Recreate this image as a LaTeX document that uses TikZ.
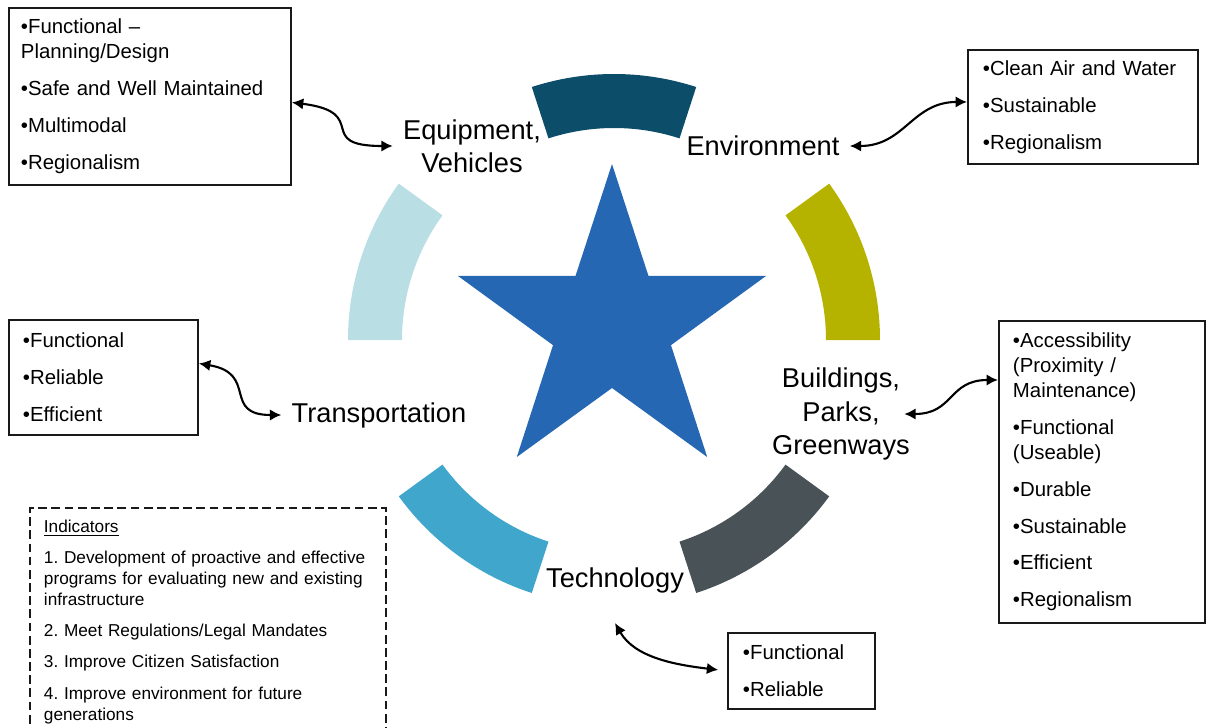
\documentclass[tikz,border=0pt]{standalone}
\usepackage{fontspec}
\setmainfont{Liberation Sans}
\usepackage{tikz}
\usetikzlibrary{arrows.meta,positioning}
\usepackage{xcolor}
\frenchspacing

\definecolor{ringteal}{RGB}{12,77,106}
\definecolor{ringolive}{RGB}{181,179,0}
\definecolor{ringpale}{RGB}{185,222,228}
\definecolor{ringsky}{RGB}{64,166,204}
\definecolor{ringslate}{RGB}{73,83,87}
\definecolor{starblue}{RGB}{37,103,178}

\tikzset{
  hub/.style={font=\fontsize{15.5}{19}\selectfont, align=center, inner sep=0.2cm},
  listbox/.style={draw=black!90, line width=1.1pt, align=left, inner ysep=0pt,
    font=\fontsize{11.6}{14.2}\selectfont},
  notebox/.style={draw=black!90, line width=1.1pt, dash pattern=on 5pt off 2.5pt,
    align=left, inner ysep=0.24cm, font=\fontsize{9.8}{12}\selectfont},
  link/.style={<->, line width=1.2pt}
}

\begin{document}
\begin{tikzpicture}[x=0.02cm,y=0.02cm,>={Latex[length=6.5pt,width=6.5pt]}]
  \useasboundingbox (-614,-387) rectangle (592,340);
  % ring of five segments round the star
  \foreach \a/\col in {0/ringolive,72/ringteal,144/ringpale,216/ringsky,288/ringslate}{
    \fill[\col] (\a:212) arc ({\a}:{\a+36}:212) -- ({\a+36}:266) arc ({\a+36}:{\a}:266) -- cycle;}
  \fill[starblue,shift={(-2,14)}] (90:162) -- (126:62) -- (162:162) -- (198:62) -- (234:162)
    -- (270:62) -- (306:162) -- (342:62) -- (18:162) -- (54:62) -- cycle;

  % the five areas
  \node[hub] (equip) at (-142,194) {Equipment,\\Vehicles};
  \node[hub] (env) at (149,194) {Environment};
  \node[hub] (transp) at (-235,-75) {Transportation};
  \node[hub] (bldg) at (227,-74) {Buildings,\\Parks,\\Greenways};
  \node[hub] (tech) at (1,-240) {Technology};

  % attribute lists
  \node[listbox,anchor=north west,text width=5.16cm,inner xsep=0.24cm,minimum height=3.54cm] (eqbox) at (-606,333)
    {•Functional –\\Planning/Design\\[6.8pt]•Safe and Well Maintained\\[6.8pt]•Multimodal\\[6.8pt]•Regionalism};
  \node[listbox,anchor=north west,text width=4cm,inner xsep=0.3cm,minimum height=2.28cm] (envbox) at (353,291)
    {•Clean Air and Water\\[6.8pt]•Sustainable\\[6.8pt]•Regionalism};
  \node[listbox,anchor=north west,text width=3.22cm,inner xsep=0.28cm,minimum height=2.3cm] (trbox) at (-606,21)
    {•Functional\\[6.8pt]•Reliable\\[6.8pt]•Efficient};
  \node[listbox,anchor=north west,text width=3.56cm,inner xsep=0.28cm,minimum height=6.04cm] (bldbox) at (384,20)
    {•Accessibility\\(Proximity /\\Maintenance)\\[6.8pt]•Functional\\(Useable)\\[6.8pt]•Durable\\[6.8pt]%
     •Sustainable\\[6.8pt]•Efficient\\[6.8pt]•Regionalism};
  \node[listbox,anchor=north west,text width=2.34cm,inner xsep=0.3cm,minimum height=1.52cm] (techbox) at (113,-292)
    {•Functional\\[6.8pt]•Reliable};

  \node[notebox,anchor=north west,text width=6.56cm,inner xsep=0.28cm] (ind) at (-585,-167)
    {\underline{Indicators}\\[5.7pt]1. Development of proactive and effective\\programs for evaluating new and existing\\%
     infrastructure\\[5.7pt]2. Meet Regulations/Legal Mandates\\[5.7pt]3. Improve Citizen Satisfaction\\[5.7pt]%
     4. Improve environment for future\\generations};

  % links between areas and lists
  \draw[link] ([yshift=-0.12cm]eqbox.east) .. controls +(80,-10) and +(-80,0) .. (equip.west);
  \draw[link] (env.east) .. controls +(55,0) and +(-55,0) .. ([yshift=0.1cm]envbox.west);
  \draw[link] ([yshift=0.28cm]trbox.east) .. controls +(60,-10) and +(-60,0) .. (transp.west);
  \draw[link] ([xshift=-0.32cm]bldg.east) .. controls +(50,0) and +(-50,0) .. ([yshift=-1.2cm]bldbox.north west);
  \draw[link,shorten >=5pt] ([yshift=-0.4cm]tech.south) .. controls +(20,-35) and +(-50,6) .. (techbox.west);
\end{tikzpicture}
\end{document}
